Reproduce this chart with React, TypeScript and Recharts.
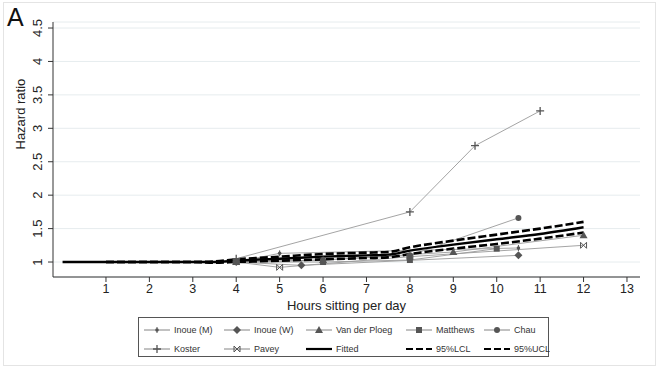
import { LineChart, Line, XAxis, YAxis, CartesianGrid } from 'recharts'

// study estimates (hours sitting, hazard ratio)
const inoueM = [{ x: 4, y: 1 }, { x: 5, y: 1.13 }, { x: 10.5, y: 1.21 }]
const inoueW = [{ x: 4, y: 1 }, { x: 5.5, y: 0.95 }, { x: 10.5, y: 1.1 }]
const vanDerPloeg = [{ x: 4, y: 1 }, { x: 6, y: 1.03 }, { x: 9, y: 1.15 }, { x: 12, y: 1.4 }]
const matthews = [{ x: 4, y: 1 }, { x: 6, y: 1.0 }, { x: 8, y: 1.03 }, { x: 10, y: 1.2 }]
const chau = [{ x: 4, y: 1 }, { x: 6, y: 1.03 }, { x: 8, y: 1.1 }, { x: 10.5, y: 1.66 }]
const koster = [{ x: 4, y: 1.05 }, { x: 8, y: 1.75 }, { x: 9.5, y: 2.74 }, { x: 11, y: 3.26 }]
const pavey = [{ x: 4, y: 1 }, { x: 5, y: 0.92 }, { x: 8, y: 1.08 }, { x: 12, y: 1.25 }]

// fitted dose-response and confidence limits
const fitX = [0, 1, 2, 3, 3.5, 4, 5, 6, 7, 7.5, 8, 9, 10, 11, 12]
const fitted = [1, 1, 1, 1, 1, 1.02, 1.05, 1.08, 1.1, 1.11, 1.17, 1.26, 1.34, 1.42, 1.52]
const lcl = [null, 1, 1, 1, 0.99, 1.0, 1.02, 1.04, 1.06, 1.07, 1.12, 1.2, 1.27, 1.35, 1.44]
const ucl = [null, 1, 1, 1, 1.01, 1.04, 1.08, 1.12, 1.14, 1.15, 1.22, 1.32, 1.41, 1.5, 1.6]

const xTicks = [1, 2, 3, 4, 5, 6, 7, 8, 9, 10, 11, 12, 13]
const yTicks = [1, 1.5, 2, 2.5, 3, 3.5, 4, 4.5]

const fitData = fitX.map((x, i) => ({ x, fitted: fitted[i], lcl: lcl[i], ucl: ucl[i] }))

const FONT = '"Liberation Sans", Arial, sans-serif'
const LINE = '#9a9a9a'
const MARK = '#555'

type Shape = 'dot' | 'diamond' | 'triangle' | 'square' | 'circle' | 'plus' | 'bowtie'

function Marker({ shape, cx, cy }: { shape: Shape; cx: number; cy: number }) {
  if (cx == null || cy == null) return null
  switch (shape) {
    case 'dot':
      return <g><circle cx={cx} cy={cy} r={1.8} fill={MARK} /><line x1={cx} y1={cy - 3} x2={cx} y2={cy + 3} stroke={MARK} /></g>
    case 'diamond':
      return <path d={`M${cx},${cy - 4}L${cx + 4},${cy}L${cx},${cy + 4}L${cx - 4},${cy}Z`} fill={MARK} />
    case 'triangle':
      return <path d={`M${cx},${cy - 4}L${cx + 4},${cy + 3}L${cx - 4},${cy + 3}Z`} fill={MARK} />
    case 'square':
      return <rect x={cx - 3} y={cy - 3} width={6} height={6} fill={MARK} />
    case 'circle':
      return <circle cx={cx} cy={cy} r={3} fill={MARK} />
    case 'plus':
      return <path d={`M${cx - 4},${cy}H${cx + 4}M${cx},${cy - 4}V${cy + 4}`} stroke={MARK} strokeWidth={1.3} />
    case 'bowtie':
      return <path d={`M${cx - 3},${cy - 3}V${cy + 3}L${cx + 3},${cy - 3}V${cy + 3}Z`} stroke={MARK} fill="none" />
  }
}

const dot = (shape: Shape) => (p: any) => <Marker key={p.key ?? `${shape}-${p.index}`} shape={shape} cx={p.cx} cy={p.cy} />

const studies: { name: string; data: { x: number; y: number }[]; shape: Shape }[] = [
  { name: 'Inoue (M)', data: inoueM, shape: 'dot' },
  { name: 'Inoue (W)', data: inoueW, shape: 'diamond' },
  { name: 'Van der Ploeg', data: vanDerPloeg, shape: 'triangle' },
  { name: 'Matthews', data: matthews, shape: 'square' },
  { name: 'Chau', data: chau, shape: 'circle' },
  { name: 'Koster', data: koster, shape: 'plus' },
  { name: 'Pavey', data: pavey, shape: 'bowtie' },
]

const legendItems: { name: string; shape?: Shape; dash?: boolean; thick?: boolean }[] = [
  ...studies.map((s) => ({ name: s.name, shape: s.shape })),
  { name: 'Fitted', thick: true },
  { name: '95%LCL', thick: true, dash: true },
  { name: '95%UCL', thick: true, dash: true },
]

const YTick = ({ x, y, payload }: any) => (
  <text x={x - 4} y={y} transform={`rotate(-90 ${x - 4} ${y})`} textAnchor="middle" fontSize={13} fill="#222" fontFamily={FONT}>
    {payload.value}
  </text>
)

function LegendBox() {
  const colX = [6, 86, 168, 268, 346]
  return (
    <svg width={412} height={41} style={{ position: 'absolute', left: 138, top: 317 }}>
      <rect x={0.5} y={0.5} width={410} height={39} fill="#fff" stroke="#555" />
      {legendItems.map((it, i) => {
        const x = colX[i % 5]
        const y = i < 5 ? 13 : 32
        return (
          <g key={it.name}>
            {it.thick ? (
              <line x1={x} x2={x + 26} y1={y} y2={y} stroke="#000" strokeWidth={2.2} strokeDasharray={it.dash ? '7 3' : undefined} />
            ) : (
              <>
                <line x1={x} x2={x + 26} y1={y} y2={y} stroke="#666" strokeWidth={0.8} />
                <Marker shape={it.shape as Shape} cx={x + 13} cy={y} />
              </>
            )}
            <text x={x + 30} y={y + 3} fontSize={9} fill="#333" fontFamily={FONT}>{it.name}</text>
          </g>
        )
      })}
    </svg>
  )
}

export default function App() {
  return (
    <div style={{ position: 'absolute', left: 0, top: 0, width: 659, height: 366, background: '#fff', fontFamily: FONT }}>
      <div style={{ position: 'absolute', left: 3, top: 2, width: 651, height: 362, border: '1px solid #e4e4e4' }} />
      <div style={{ position: 'absolute', left: 7, top: 3, fontSize: 25, color: '#111' }}>A</div>
      <LineChart width={659} height={366} margin={{ top: 22, right: 19, bottom: 59, left: 0 }}>
        <CartesianGrid vertical={false} stroke="#e6ecee" />
        <XAxis
          dataKey="x" type="number" domain={[-0.22, 13.3]} ticks={xTicks} allowDataOverflow
          axisLine={{ stroke: '#333' }} tickLine={{ stroke: '#333' }} tickSize={5}
          tick={{ fontSize: 12.5, fill: '#222', fontFamily: FONT }}
          height={30}
          label={{ value: 'Hours sitting per day', position: 'insideBottom', offset: -3, fontSize: 13, fill: '#222', fontFamily: FONT }}
        />
        <YAxis
          type="number" domain={[0.776, 4.59]} ticks={yTicks} allowDataOverflow width={53}
          axisLine={{ stroke: '#333' }} tickLine={{ stroke: '#333' }} tickSize={5}
          tick={<YTick />}
          label={{ value: 'Hazard ratio', angle: -90, position: 'insideLeft', offset: 20, fontSize: 13, fill: '#222', fontFamily: FONT }}
        />
        {studies.map((s) => (
          <Line
            key={s.name} data={s.data} dataKey="y" name={s.name} type="linear"
            stroke={LINE} strokeWidth={0.9} dot={dot(s.shape)} activeDot={false} isAnimationActive={false}
          />
        ))}
        <Line data={fitData} dataKey="ucl" type="monotone" stroke="#000" strokeWidth={2.6} strokeDasharray="8 3" dot={false} isAnimationActive={false} connectNulls={false} />
        <Line data={fitData} dataKey="lcl" type="monotone" stroke="#000" strokeWidth={2.6} strokeDasharray="8 3" dot={false} isAnimationActive={false} connectNulls={false} />
        <Line data={fitData} dataKey="fitted" type="monotone" stroke="#000" strokeWidth={2.4} dot={false} isAnimationActive={false} />
      </LineChart>
      <LegendBox />
    </div>
  )
}
